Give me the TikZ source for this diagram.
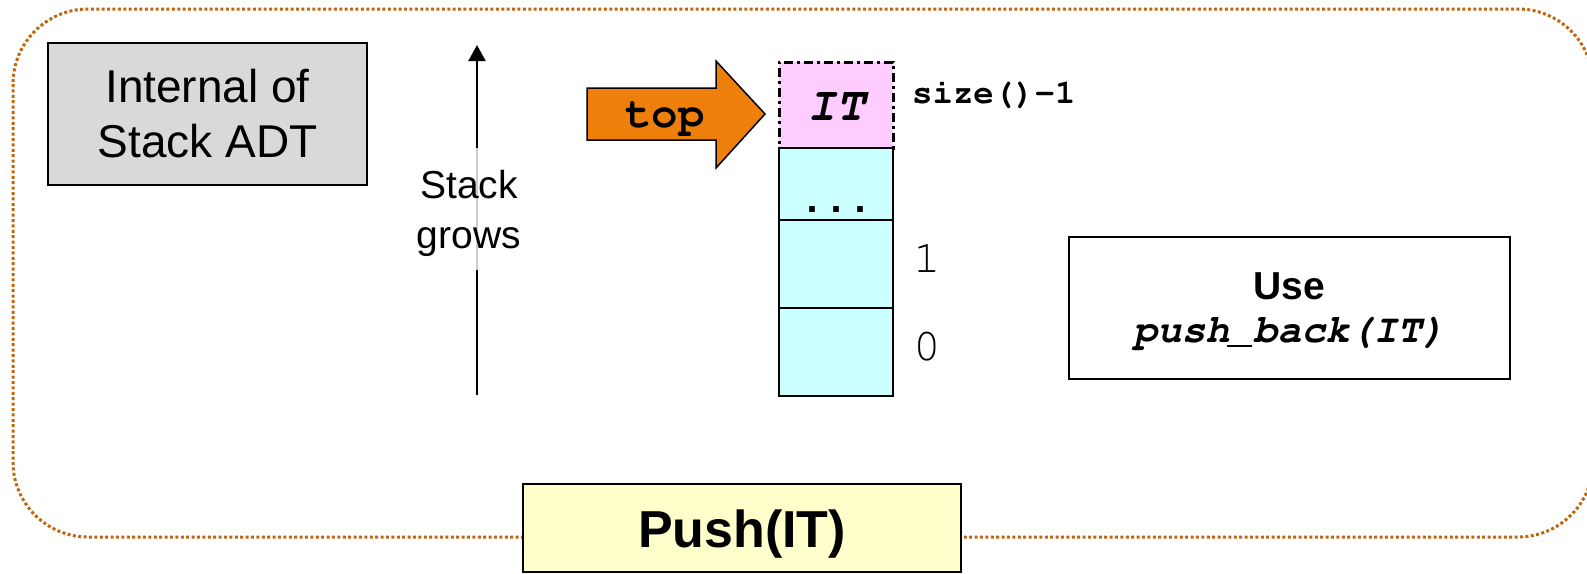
\documentclass[tikz,border=0pt]{standalone}
\usepackage[T1]{fontenc}
\usepackage{fontspec}
\setmainfont{Liberation Sans}
\newfontfamily\dotfont{Liberation Mono}
\usetikzlibrary{arrows.meta}
% Courier (URW) for code-like labels
\newcommand\cour{\fontencoding{T1}\fontfamily{pcr}\selectfont}
\newcommand\fsz[2]{\fontsize{#1}{#2}\selectfont}

\definecolor{cellpink}{HTML}{FFCCFF}
\definecolor{cellcyan}{HTML}{CCFFFF}
\definecolor{notegray}{HTML}{D9D9D9}
\definecolor{pushyellow}{HTML}{FFFFCC}
\definecolor{pointerorange}{RGB}{238,127,10}
\definecolor{dotbrown}{RGB}{192,104,16}

\tikzset{
  box/.style={draw=black, line width=2pt, inner sep=0pt, align=center},
  cellbox/.style={box, fill=cellcyan, minimum width=114pt},
  outerline/.style={draw=dotbrown, line width=3pt, dash pattern=on 3pt off 2.4pt},
  codelabel/.style={inner sep=0pt, anchor=base},
}

\begin{document}
\begin{tikzpicture}[x=1pt,y=-1pt]
\useasboundingbox (0,0) rectangle (1587,573);
\fill[white] (0,0) rectangle (1587,573);
\clip (0,0) rectangle (1587,573);

% dotted frame around the whole operation
\draw[outerline, rounded corners=75pt] (13,9) rectangle (1593,537);

% title box
\node (internal) [box, fill=notegray, minimum width=319pt, minimum height=142pt,
  font=\fsz{46}{55}] at (207.5,114) {Internal of\\Stack ADT};

% growth direction
\coordinate (sgbot) at (477,395);
\coordinate (sgtop) at (477,45);
\draw[line width=2pt, -{Triangle[length=16pt,width=17pt]}] (sgbot) -- (sgtop);
\node (grows) [fill=white, fill opacity=0.8, text opacity=1, align=center,
  inner xsep=3pt, inner ysep=22pt, text depth=0pt, font=\fsz{39}{50}]
  at (469,209) {Stack\\grows};

% top pointer
\draw[fill=pointerorange, line width=1.5pt, line join=miter]
  (587,88) -- (716,88) -- (716,61) -- (765,114) -- (716,168) -- (716,140) -- (587,140) -- cycle;
\node (toptext) [codelabel, font=\cour\bfseries\fsz{44}{50}] at (665,127) {top};

% stack cells
\node (itcell) [box, fill=cellpink, line width=3pt,
  dash pattern=on 9pt off 4pt on 3pt off 4pt,
  minimum width=114pt, minimum height=86pt] at (836,105) {};
\node (itlabel) [codelabel, font=\cour\bfseries\slshape\fsz{48}{50}] at (836,120) {IT};
\node (dotscell) [cellbox, minimum height=72pt] at (836,184) {};
\node (cellone) [cellbox, minimum height=88pt] at (836,264) {};
\node (cellzero) [cellbox, minimum height=88pt] at (836,352) {};
\node (dots) [codelabel, font=\dotfont\bfseries\fsz{40}{44}] at (836,212) {...};

% index labels
\node (sizelbl) [codelabel, anchor=base west, font=\cour\bfseries\fsz{34}{40}] at (912,103) {size()-1};
\node (idxone) [codelabel, font=\cour\fsz{46}{50}] at (927,272) {1};
\node (idxzero) [codelabel, font=\cour\fsz{46}{50}] at (927,360) {0};

% implementation note
\node (usebox) [box, fill=white, minimum width=441pt, minimum height=142pt,
  text depth=0pt, font=\fsz{39}{43}] at (1289.5,308)
  {{\bfseries Use}\\{\cour\bfseries\slshape\fsz{40}{43}push\_back(IT)}};

% operation name
\node (pushbox) [box, fill=pushyellow, minimum width=438pt, minimum height=88pt,
  text height=38pt, text depth=0pt, font=\bfseries\fsz{52}{60}] at (742,528) {Push(IT)};
\end{tikzpicture}
\end{document}
